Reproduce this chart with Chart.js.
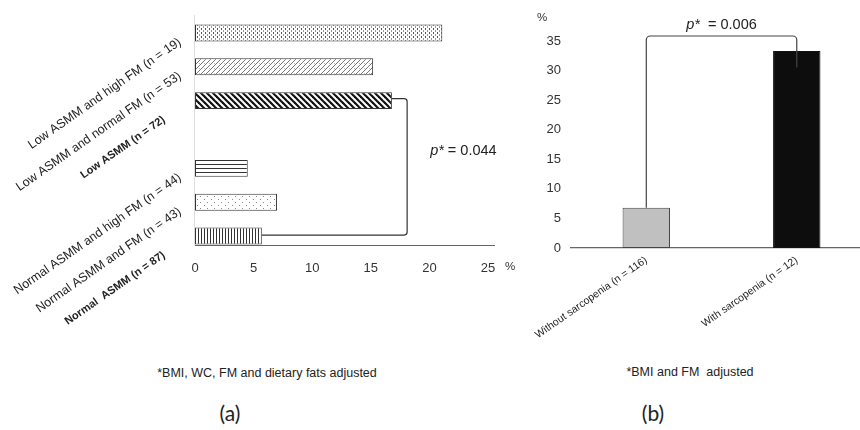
<!DOCTYPE html>
<html>
<head>
<meta charset="utf-8">
<script src="https://cdn.jsdelivr.net/npm/chart.js@4.4.1/dist/chart.umd.min.js"></script>
<style>
  html, body { margin: 0; padding: 0; background: #fff; }
  body { width: 860px; height: 430px; position: relative; overflow: hidden; font-family: "Liberation Sans", Arial, sans-serif; color: #222; }
  .box { position: absolute; }
  .note { position: absolute; font-size: 12.5px; transform: translate(-50%, -50%); white-space: pre; }
  .panel { position: absolute; font-family: Lato, "Open Sans", sans-serif; font-size: 21px; transform: translate(-50%, -50%); }
  .unit { position: absolute; font-size: 11.5px; color: #333; }
</style>
</head>
<body>
<div class="box" style="left:0;top:0;width:520px;height:340px;"><canvas id="chartA"></canvas></div>
<div class="box" style="left:520px;top:0;width:360px;height:350px;"><canvas id="chartB"></canvas></div>
<div class="unit" style="left:505px;top:260px;">%</div>
<div class="unit" style="left:537px;top:11px;">%</div>
<div class="note" style="left:267px;top:373px;">*BMI, WC, FM and dietary fats adjusted</div>
<div class="note" style="left:690px;top:372px;">*BMI and FM  adjusted</div>
<div class="panel" style="left:230px;top:412px;">(a)</div>
<div class="panel" style="left:653px;top:412px;">(b)</div>

<script>
// ---- panel (a): prevalence by ASMM / FM group (top to bottom) ----
const groupLabels = [
  "Low ASMM and high FM (n = 19)",
  "Low ASMM and normal FM (n = 53)",
  "Low ASMM (n = 72)",
  "",
  "Normal ASMM and high FM (n = 44)",
  "Normal ASMM and FM (n = 43)",
  "Normal  ASMM (n = 87)"
];
const groupValues = [21.1, 15.2, 16.8, null, 4.5, 7.0, 5.7];
const groupBold = [false, false, true, false, false, false, true];
const xTicksA = [0, 5, 10, 15, 20, 25];

// ---- panel (b): with / without sarcopenia ----
const sarcLabels = ["Without sarcopenia (n = 116)", "With sarcopenia (n = 12)"];
const sarcValues = [6.8, 33.3];
const yTicksB = [0, 5, 10, 15, 20, 25, 30, 35];

const FONT = "'Liberation Sans', Arial, sans-serif";

/*
  Small tiles for the black & white fill patterns
*/
function makePattern(w, h, draw) {
  const c = document.createElement("canvas");
  c.width = w;
  c.height = h;
  const g = c.getContext("2d");
  g.fillStyle = "#fff";
  g.fillRect(0, 0, w, h);
  draw(g, w, h);
  return document.createElement("canvas").getContext("2d").createPattern(c, "repeat");
}

function diagTile(g, w, h, color, lw, forward) {
  g.strokeStyle = color;
  g.lineWidth = lw;
  for (let k = -1; k <= 1; k++) {
    g.beginPath();
    if (forward) {
      g.moveTo(k * w - 1, h + 1);
      g.lineTo(k * w + w + 1, -1);
    } else {
      g.moveTo(k * w - 1, -1);
      g.lineTo(k * w + w + 1, h + 1);
    }
    g.stroke();
  }
}

const patterns = [
  // dashed dot grid
  makePattern(4, 4, (g) => {
    g.fillStyle = "#555";
    g.fillRect(1, 0, 1, 2);
    g.fillStyle = "#999";
    g.fillRect(3, 2, 1, 2);
  }),
  // light forward diagonal
  makePattern(5, 5, (g, w, h) => {
    diagTile(g, w, h, "#777", 1, true);
    g.fillStyle = "#bbb";
    g.fillRect(4, 3, 1, 1);
  }),
  // heavy back diagonal
  makePattern(6, 6, (g, w, h) => diagTile(g, w, h, "#111", 2.2, false)),
  null,
  // horizontal lines
  makePattern(4, 4, (g) => {
    g.fillStyle = "#333";
    g.fillRect(0, 0, 4, 1);
  }),
  // sparse dots
  makePattern(7, 6, (g) => {
    g.fillStyle = "#888";
    g.fillRect(1, 1, 1, 1);
    g.fillRect(4, 4, 1, 1);
  }),
  // vertical lines
  makePattern(3, 4, (g) => {
    g.fillStyle = "#333";
    g.fillRect(0, 0, 1, 4);
  })
];

function roundedPath(ctx, pts, r) {
  ctx.beginPath();
  ctx.moveTo(pts[0][0], pts[0][1]);
  for (let i = 1; i < pts.length - 1; i++) {
    ctx.arcTo(pts[i][0], pts[i][1], pts[i + 1][0], pts[i + 1][1], r);
  }
  ctx.lineTo(pts[pts.length - 1][0], pts[pts.length - 1][1]);
  ctx.stroke();
}

// axes lines, bracket, p value and rotated category labels for (a)
const panelAExtras = {
  id: "panelAExtras",
  afterDatasetsDraw(chart) {
    const ctx = chart.ctx;
    const area = chart.chartArea;
    const bars = chart.getDatasetMeta(0).data;
    const xs = chart.scales.x;
    const ys = chart.scales.y;
    const last = bars[bars.length - 1];
    const axisY = Math.round(last.y + last.height / 2) + 0.5;

    ctx.save();
    ctx.lineWidth = 1;
    ctx.strokeStyle = "#ddd";
    ctx.beginPath();
    ctx.moveTo(area.left - 0.5, area.top - 1);
    ctx.lineTo(area.left - 0.5, axisY);
    ctx.stroke();
    ctx.strokeStyle = "#666";
    ctx.beginPath();
    ctx.moveTo(area.left, axisY);
    ctx.lineTo(area.right + 7, axisY);
    ctx.stroke();

    // bracket between Low ASMM and Normal ASMM
    const bx = xs.getPixelForValue(18.1);
    ctx.strokeStyle = "#333";
    ctx.lineWidth = 1.2;
    roundedPath(ctx, [[bars[2].x, bars[2].y - 2], [bx, bars[2].y - 2], [bx, last.y - 1], [last.x, last.y - 1]], 3);

    const py = (ys.getPixelForValue(3) + ys.getPixelForValue(4)) / 2;
    ctx.fillStyle = "#222";
    ctx.textBaseline = "middle";
    ctx.textAlign = "left";
    ctx.font = "italic 14.5px " + FONT;
    ctx.fillText("p*", bx + 23, py);
    const pw = ctx.measureText("p*").width;
    ctx.font = "14.5px " + FONT;
    ctx.fillText(" = 0.044", bx + 23 + pw, py);

    // rotated group labels
    groupLabels.forEach((txt, i) => {
      if (!txt) return;
      const y = ys.getPixelForValue(i);
      ctx.save();
      if (groupBold[i]) {
        ctx.font = "bold 11px " + FONT;
        ctx.translate(area.left - 31, y + 18);
      } else {
        ctx.font = "12.5px " + FONT;
        ctx.translate(area.left - 15, y + 8);
      }
      ctx.rotate(-35 * Math.PI / 180);
      ctx.textAlign = "right";
      ctx.textBaseline = "middle";
      ctx.fillStyle = "#222";
      ctx.fillText(txt, 0, 0);
      ctx.restore();
    });
    ctx.restore();
  }
};

// bracket and p value for (b)
const panelBExtras = {
  id: "panelBExtras",
  afterDatasetsDraw(chart) {
    const ctx = chart.ctx;
    const bars = chart.getDatasetMeta(0).data;
    const ys = chart.scales.y;
    const topY = ys.getPixelForValue(35) - 5;
    const legEnd = ys.getPixelForValue(30.5);

    ctx.save();
    ctx.strokeStyle = "#444";
    ctx.lineWidth = 1.2;
    roundedPath(ctx, [[bars[0].x, bars[0].y], [bars[0].x, topY], [bars[1].x, topY], [bars[1].x, legEnd]], 4);

    const cx = (bars[0].x + bars[1].x) / 2;
    const ty = topY - 11;
    ctx.font = "italic 14.5px " + FONT;
    const w1 = ctx.measureText("p*").width;
    ctx.font = "14.5px " + FONT;
    const rest = "  = 0.006";
    const w2 = ctx.measureText(rest).width;
    const x0 = cx - (w1 + w2) / 2;
    ctx.fillStyle = "#222";
    ctx.textBaseline = "middle";
    ctx.textAlign = "left";
    ctx.font = "italic 14.5px " + FONT;
    ctx.fillText("p*", x0, ty);
    ctx.font = "14.5px " + FONT;
    ctx.fillText(rest, x0 + w1, ty);
    ctx.restore();
  }
};

new Chart(document.getElementById("chartA"), {
  type: "bar",
  data: {
    labels: groupLabels,
    datasets: [{
      data: groupValues,
      backgroundColor: patterns.map((p) => p || "#fff"),
      borderColor: "#333",
      borderWidth: 1,
      borderSkipped: false,
      categoryPercentage: 1,
      barPercentage: 0.5
    }]
  },
  options: {
    indexAxis: "y",
    responsive: true,
    maintainAspectRatio: false,
    animation: false,
    layout: { padding: { left: 195, right: 32, top: 16, bottom: 0 } },
    plugins: { legend: { display: false }, tooltip: { enabled: false } },
    scales: {
      x: {
        min: 0,
        max: 25,
        afterBuildTicks: (s) => { s.ticks = xTicksA.map((v) => ({ value: v })); },
        afterFit: (s) => { s.height = 87; },
        grid: { display: false, drawTicks: false },
        border: { display: false },
        ticks: { padding: 8, color: "#333", font: { family: FONT, size: 13 } }
      },
      y: {
        afterFit: (s) => { s.width = 0; },
        grid: { display: false, drawTicks: false },
        border: { display: false },
        ticks: { display: false }
      }
    }
  },
  plugins: [panelAExtras]
});

new Chart(document.getElementById("chartB"), {
  type: "bar",
  data: {
    labels: sarcLabels,
    datasets: [{
      data: sarcValues,
      backgroundColor: ["#c0c0c0", "#0d0d0d"],
      borderColor: ["#444", "#111"],
      borderWidth: 1,
      borderSkipped: false,
      categoryPercentage: 1,
      barPercentage: 0.315
    }]
  },
  options: {
    responsive: true,
    maintainAspectRatio: false,
    animation: false,
    layout: { padding: { left: 0, right: 8, top: 41, bottom: 0 } },
    plugins: { legend: { display: false }, tooltip: { enabled: false } },
    scales: {
      x: {
        afterFit: (s) => { s.height = 102; },
        grid: { display: false, drawTicks: false },
        border: { display: true, color: "#666", width: 1.3 },
        ticks: { minRotation: 35, maxRotation: 35, padding: 6, color: "#222", font: { family: FONT, size: 10.5 } }
      },
      y: {
        min: 0,
        max: 35,
        afterBuildTicks: (s) => { s.ticks = yTicksB.map((v) => ({ value: v })); },
        afterFit: (s) => { s.width = 41; },
        grid: { display: false, drawTicks: false },
        border: { display: false },
        ticks: { padding: 10, color: "#333", font: { family: FONT, size: 13 } }
      }
    }
  },
  plugins: [panelBExtras]
});
</script>
</body>
</html>
